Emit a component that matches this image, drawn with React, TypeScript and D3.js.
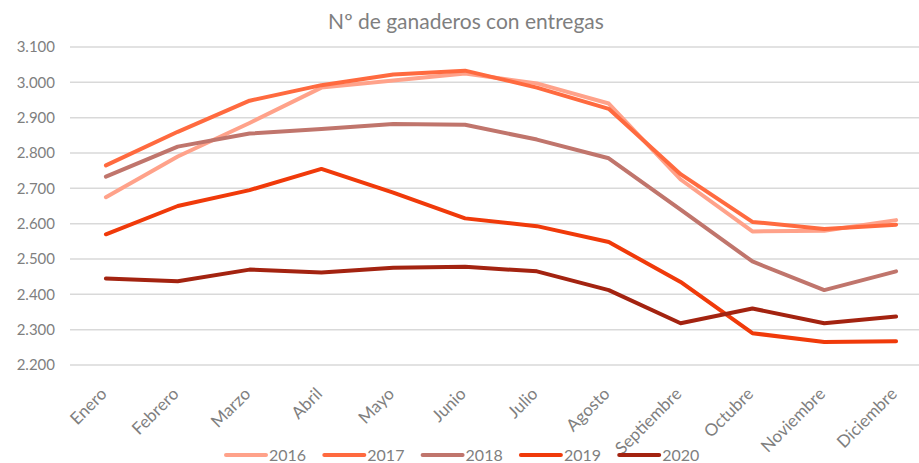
import React, { useEffect, useRef } from "react";
import * as d3 from "d3";

const months = [
  "Enero", "Febrero", "Marzo", "Abril", "Mayo", "Junio",
  "Julio", "Agosto", "Septiembre", "Octubre", "Noviembre", "Diciembre",
];

const years = ["2016", "2017", "2018", "2019", "2020"];

const v2016 = [2675, 2790, 2885, 2985, 3005, 3025, 2997, 2940, 2725, 2578, 2580, 2610];
const v2017 = [2765, 2860, 2948, 2992, 3022, 3033, 2985, 2925, 2740, 2605, 2585, 2597];
const v2018 = [2733, 2818, 2855, 2868, 2882, 2880, 2838, 2785, 2640, 2493, 2412, 2465];
const v2019 = [2570, 2650, 2695, 2755, 2688, 2615, 2593, 2548, 2435, 2290, 2265, 2267];
const v2020 = [2445, 2437, 2470, 2462, 2475, 2478, 2465, 2412, 2318, 2360, 2318, 2337];

const yTicks = [2200, 2300, 2400, 2500, 2600, 2700, 2800, 2900, 3000, 3100];

const colors = ["#FFA28A", "#FF6A3F", "#C0756C", "#F03A0A", "#A32310"];

const W = 919;
const H = 463;

const App = () => {
  const svgRef = useRef<SVGSVGElement | null>(null);

  useEffect(() => {
    const series = [v2016, v2017, v2018, v2019, v2020];
    const font = "Lato, 'Open Sans', sans-serif";
    const grey = "#7f7f7f";

    const svg = d3.select(svgRef.current);
    svg.selectAll("*").remove();

    const x = d3.scaleBand().domain(months).range([70, 932]);
    const y = d3.scaleLinear().domain([2200, 3100]).range([365, 47]);
    const cx = (m: string) => x(m)! + x.bandwidth() / 2;

    // title
    svg
      .append("text")
      .attr("x", 466)
      .attr("y", 29)
      .attr("text-anchor", "middle")
      .attr("font-family", font)
      .attr("font-size", 21)
      .attr("fill", grey)
      .text("Nº de ganaderos con entregas");

    // gridlines + y labels
    const fmt = (d: number) => d3.format(".3f")(d / 1000);
    const yg = svg.append("g");
    yg.selectAll("line")
      .data(yTicks)
      .enter()
      .append("line")
      .attr("x1", 70)
      .attr("x2", W)
      .attr("y1", (d) => y(d))
      .attr("y2", (d) => y(d))
      .attr("stroke", "#d9d9d9")
      .attr("stroke-width", 1.5);
    yg.selectAll("text")
      .data(yTicks)
      .enter()
      .append("text")
      .attr("x", 55)
      .attr("y", (d) => y(d))
      .attr("dy", "0.35em")
      .attr("text-anchor", "end")
      .attr("font-family", font)
      .attr("font-size", 15)
      .attr("fill", grey)
      .text(fmt);

    // x labels, rotated
    svg
      .append("g")
      .selectAll("text")
      .data(months)
      .enter()
      .append("text")
      .attr("transform", (d) => `translate(${cx(d) + 2},${395}) rotate(-45)`)
      .attr("text-anchor", "end")
      .attr("font-family", font)
      .attr("font-size", 17)
      .attr("fill", grey)
      .text((d) => d);

    // lines
    const line = d3
      .line<number>()
      .x((_, i) => cx(months[i]))
      .y((d) => y(d));

    series.forEach((s, i) => {
      svg
        .append("path")
        .datum(s)
        .attr("d", line)
        .attr("fill", "none")
        .attr("stroke", colors[i])
        .attr("stroke-width", 4)
        .attr("stroke-linejoin", "round")
        .attr("stroke-linecap", "round");
    });

    // legend
    const lg = svg.append("g");
    years.forEach((yr, i) => {
      const lx = 226 + i * 98.3;
      lg.append("line")
        .attr("x1", lx)
        .attr("x2", lx + 40)
        .attr("y1", 455)
        .attr("y2", 455)
        .attr("stroke", colors[i])
        .attr("stroke-width", 4)
        .attr("stroke-linecap", "round");
      lg.append("text")
        .attr("x", lx + 43)
        .attr("y", 455)
        .attr("dy", "0.35em")
        .attr("font-family", font)
        .attr("font-size", 16)
        .attr("fill", grey)
        .text(yr);
    });
  }, []);

  return (
    <svg
      ref={svgRef}
      width={W}
      height={H}
      style={{ position: "absolute", left: 0, top: 0, background: "#fff" }}
    ></svg>
  );
};

export default App;
